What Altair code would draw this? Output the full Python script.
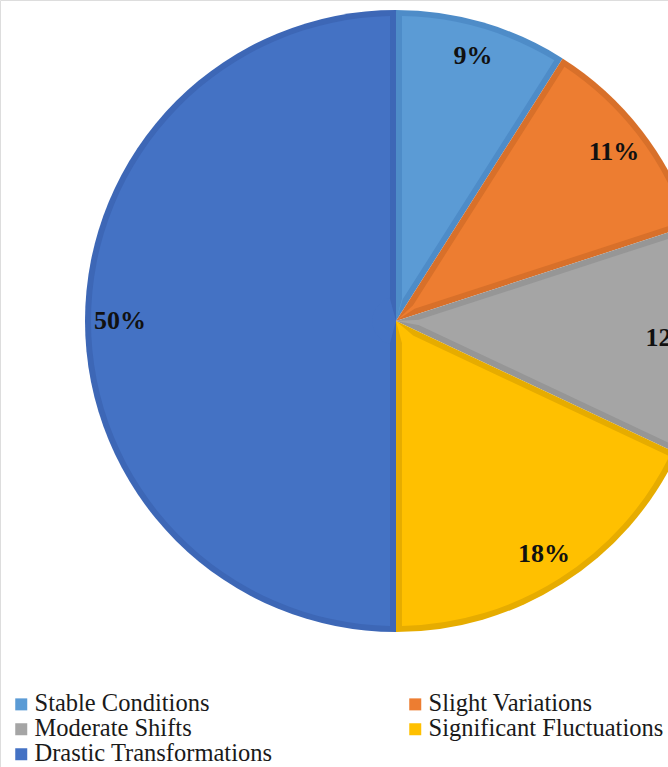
import altair as alt
import pandas as pd

# Share of observations per change category (clockwise from 12 o'clock)
categories = [
    "Stable Conditions",
    "Slight Variations",
    "Moderate Shifts",
    "Significant Fluctuations",
    "Drastic Transformations",
]
values = [9, 11, 12, 18, 50]
labels = ["9%", "11%", "12%", "18%", "50%"]

fill_colors = ["#5B9BD5", "#ED7D31", "#A5A5A5", "#FFC000", "#4472C4"]
edge_colors = ["#4E8CC8", "#D8702A", "#969696", "#E6AC00", "#3D67B6"]

# The legend fills column by column, so list it in the order that reads row by row
legend_order = [0, 2, 4, 1, 3]
legend_domain = [categories[i] for i in legend_order]
legend_range = [fill_colors[i] for i in legend_order]

df = pd.DataFrame({
    "category": categories,
    "value": values,
    "label": labels,
    "edge": edge_colors,
    "idx": list(range(len(categories))),
})

cx, cy, R = 396, 321, 311
fill_scale = alt.Scale(domain=legend_domain, range=legend_range)

base = alt.Chart(df).encode(
    theta=alt.Theta("value:Q", stack=True),
    order=alt.Order("idx:Q"),
    x=alt.value(cx),
    y=alt.value(cy),
)

# Outer wedge in the darker edge shade
edge = base.mark_arc(outerRadius=R).encode(
    fill=alt.Fill("edge:N", scale=None),
)

# Inner wedge in the main colour; the pad plus a small hole keeps the
# inset parallel to every straight edge
inner = base.mark_arc(outerRadius=R - 6, innerRadius=23, padAngle=0.039).encode(
    fill=alt.Fill(
        "category:N",
        scale=fill_scale,
        legend=alt.Legend(
            title=None,
            orient="none",
            legendX=9,
            legendY=692,
            columns=2,
            columnPadding=130,
            rowPadding=0,
            padding=0,
            symbolType="square",
            symbolSize=144,
            symbolStrokeWidth=0,
            labelFont="Liberation Serif",
            labelFontSize=24.5,
            labelColor="#1a1a1a",
            labelOffset=1,
            labelLimit=400,
        ),
    ),
)

# Small core that closes the hole, still leaving the edge bands near the centre
core = base.mark_arc(outerRadius=24, padAngle=0.53).encode(
    fill=alt.Fill("category:N", scale=fill_scale, legend=None),
)

text = base.mark_text(
    radius=276,
    font="Liberation Serif",
    fontSize=26,
    fontWeight="bold",
    color="#111111",
    dy=0,
).encode(text="label:N")

chart = (
    alt.layer(edge, inner, core, text)
    .properties(width=668, height=767, padding=0, autosize=alt.AutoSizeParams(type="none"))
    .configure_view(stroke=None)
    .configure(background="white")
)

chart.save("out.html", embed_options={"renderer": "svg", "actions": False})
